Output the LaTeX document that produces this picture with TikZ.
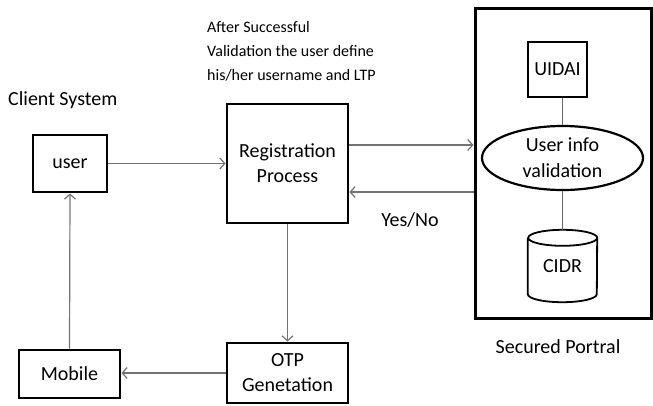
\documentclass[tikz,border=0pt]{standalone}
\usepackage{fontspec}
\setmainfont{Carlito}
\usetikzlibrary{arrows.meta,shapes.geometric}
\tikzset{
  box/.style={draw=black,line width=2.8pt,inner sep=0pt,align=center,font=\fontsize{20}{25}\selectfont},
  lbl/.style={inner sep=0pt,align=center,font=\fontsize{20}{25}\selectfont},
  arr/.style={draw=black!55,line width=1.2pt,-{Straight Barb[length=5pt,width=11pt,line width=1.2pt]}},
  ln/.style={draw=black!60,line width=1.2pt},
}
\begin{document}
\begin{tikzpicture}[x=1pt,y=-1pt]
\useasboundingbox (0,0) rectangle (653,405);
% portal
\node[draw=black,line width=3pt,minimum width=176pt,minimum height=310pt,inner sep=0pt] (portal) at (563,163) {};
\node[box,line width=2.2pt,minimum width=59pt,minimum height=55pt] (uidai) at (557.5,69.5) {UIDAI};
\node[ellipse,draw=black,line width=2.2pt,minimum width=161pt,minimum height=64pt,inner sep=0pt,align=center,font=\fontsize{20}{26}\selectfont] (val) at (562.5,158) {User info\\validation};
\node[lbl,minimum width=69pt,minimum height=72pt] (cidr) at (562.5,266) {CIDR};
\draw[line width=1.8pt] ([yshift=-8pt]cidr.north west) -- ([yshift=8pt]cidr.south west)
  arc[start angle=180,end angle=360,x radius=34.5pt,y radius=8pt]
  -- ([yshift=-8pt]cidr.north east)
  arc[start angle=0,end angle=360,x radius=34.5pt,y radius=8pt];
\draw[ln] (val.north |- uidai.south) -- (val.north);
\draw[ln] (val.south) -- (cidr.north);
\node[lbl] (sp) at (558,347) {Secured Portral};
% left
\node[box,minimum width=74pt,minimum height=57pt] (user) at (70,163.5) {user};
\node[box,minimum width=121pt,minimum height=119pt] (reg) at (287.5,163.5) {Registration\\Process};
\node[box,minimum width=121pt,minimum height=60pt] (otp) at (287.5,373) {OTP\\Genetation};
\node[box,minimum width=101pt,minimum height=48pt] (mob) at (69.5,374) {Mobile};
\node[lbl,anchor=west] (cs) at (8,100) {Client System};
\node[inner sep=0pt,anchor=north west,align=left,font=\fontsize{16}{24}\selectfont] (note) at (207,21) {After Successful\\Validation the user define\\his/her username and LTP};
\node[lbl] (yn) at (410,220) {Yes/No};
% connectors
\draw[arr] (user.east) -- (reg.west |- user.east);
\coordinate (a1) at ([yshift=18.5pt]reg.east);
\coordinate (a2) at ([yshift=-28.5pt]reg.east);
\draw[arr] (a1) -- (a1 -| portal.west);
\draw[arr] (a2 -| portal.west) -- (a2);
\draw[arr] (reg.south) -- (otp.north);
\draw[arr] (otp.west) -- (otp.west -| mob.east);
\draw[arr] (mob.north) -- (user.south);
\end{tikzpicture}
\end{document}
